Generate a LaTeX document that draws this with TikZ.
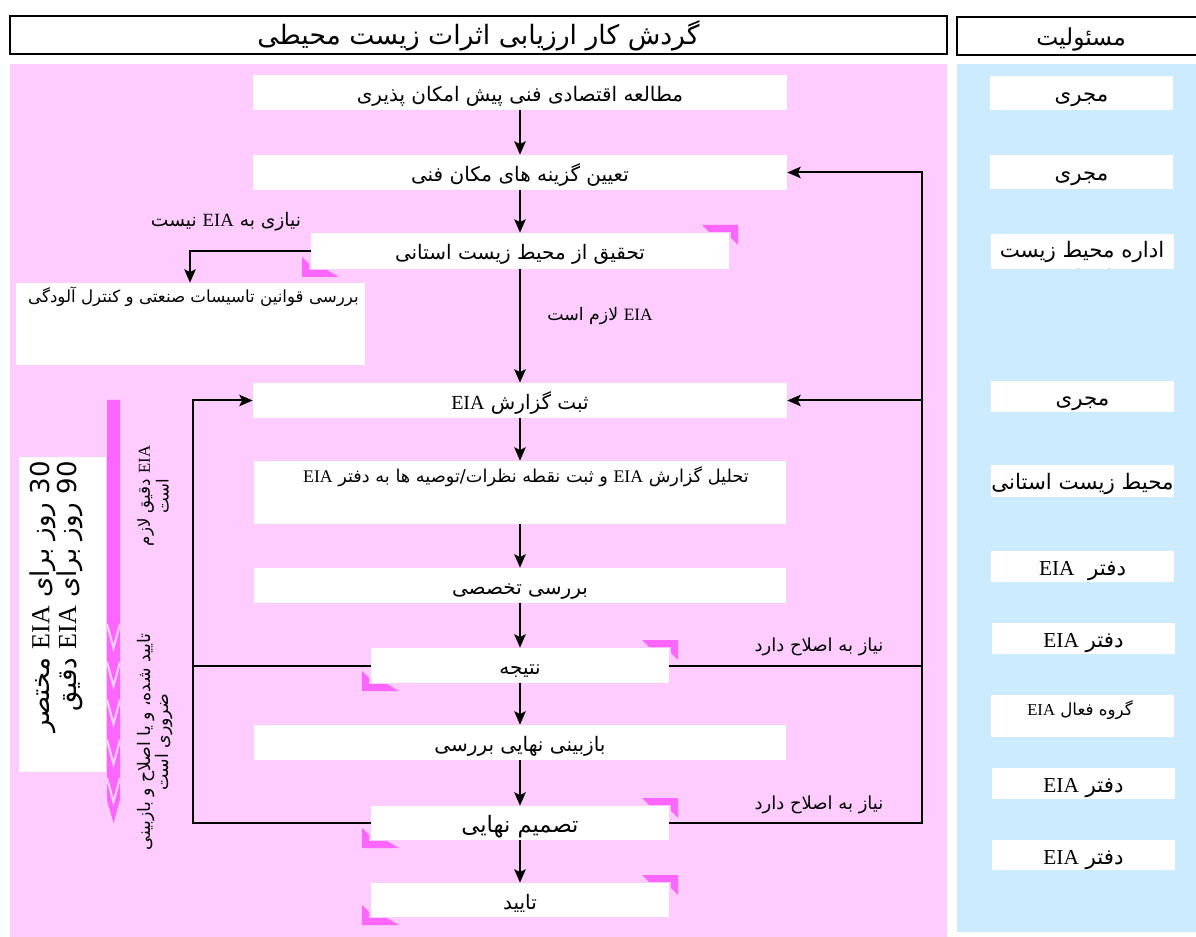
\documentclass[tikz,border=0pt]{standalone}
\usepackage{fontspec}
\setmainfont{Liberation Serif}
\newfontfamily\fa[Script=Arabic]{DejaVu Sans}
\TeXXeTstate=1
\usetikzlibrary{arrows.meta}

\definecolor{lanepink}{HTML}{FFCCFF}
\definecolor{laneblue}{HTML}{CCEBFF}
\definecolor{accent}{HTML}{FF66FF}

% right-to-left Persian run, and the Latin acronym inside it
\newcommand{\rtl}[1]{{\fa\beginR #1\endR}}
\newcommand{\eia}{\beginL{\rmfamily EIA}\endL}

% white box spanning (x1,y1)-(x2,y2) in pixel units
\newcommand{\flowbox}[7][]{%
  \node[stepbox,#1,minimum width={(#5-#3)*0.75pt},minimum height={(#6-#4)*0.75pt}]
    (#2) at ({(#3+#5)/2},{(#4+#6)/2}) {#7};}

% magenta corner brackets: top right and bottom left of box (x1,y1)-(x2,y2)
\newcommand{\brackets}[4]{%
  \fill[accent] (#3-27,#2-8) -- (#3+9,#2-8) -- (#3+9,#2+12) -- (#3+2,#2+5)
     -- (#3+2,#2-1) -- (#3-20,#2-1) -- cycle;
  \fill[accent] (#1-9,#4-12) -- (#1-9,#4+8) -- (#1+28,#4+8) -- (#1+16,#4+1)
     -- (#1-2,#4+1) -- (#1-2,#4-5) -- cycle;}

\tikzset{
  stepbox/.style={fill=white,inner sep=0pt,text=black,text height=14.5pt,text depth=1pt,
    font={\fontsize{15}{18}\selectfont}},
  headbox/.style={draw=black,line width=1.7pt,text height=16pt,font={\fontsize{20}{24}\selectfont}},
  rolebox/.style={font={\fontsize{16}{19}\selectfont}},
  note/.style={inner sep=0pt,font={\fontsize{13.5}{16}\selectfont}},
  flow/.style={line width=1.5pt,-{Stealth[length=10pt,width=8.5pt,inset=2pt]}},
  link/.style={line width=1.5pt},
}

\begin{document}
\begin{tikzpicture}[x=0.75pt,y=-0.75pt]
\useasboundingbox (0,0) rectangle (1196,937);
\fill[white] (0,0) rectangle (1196,937);

% swimlanes
\fill[lanepink] (10,64) rectangle (947,937);
\fill[laneblue] (957,64) rectangle (1196,932);

% headers
\flowbox[headbox]{title}{10}{16}{947}{54}{\rtl{گردش کار ارزیابی اثرات زیست محیطی}}
\flowbox[headbox,font={\fontsize{17.5}{21}\selectfont}]{resp}{957}{17}{1205}{55}{\rtl{مسئولیت}}

% corner brackets behind the decision boxes
\brackets{311}{233}{729}{269}
\brackets{371}{648}{669}{683}
\brackets{371}{806}{669}{840}
\brackets{371}{883}{669}{917}

% timeline arrow with chevrons
\fill[accent] (107,400) -- (120,400) -- (120,800) -- (113.5,823) -- (107,800) -- cycle;
\foreach \yy in {624,662,700,740,778}
  \draw[lanepink,line width=1.6pt] (107,\yy) -- (113.5,\yy+24) -- (120,\yy);

% durations
\flowbox{durbox}{19}{457}{106}{772}{}
\node[rotate=90,anchor=east,align=right,inner sep=0pt,font={\fontsize{19.5}{20}\selectfont}]
  (durtext) at (56,461) {\rtl{\beginL 30\endL{} روز برای \eia{} مختصر}\\\rtl{\beginL 90\endL{} روز برای \eia{} دقیق}};

% side notes along the loop
\node[note,rotate=90,align=center,font={\fontsize{12.5}{14}\selectfont}] (vnote1) at (153,496)
  {\rtl{\eia{} دقیق لازم}\\\rtl{است}};
\node[note,rotate=90,align=center,font={\fontsize{13}{14}\selectfont}] (vnote2) at (155,742)
  {\rtl{تایید شده، و یا اصلاح و بازبینی}\\\rtl{ضروری است}};

% main flow
\flowbox{b1}{253}{75}{787}{110}{\rtl{مطالعه اقتصادی فنی پیش امکان پذیری}}
\flowbox{b2}{253}{155}{787}{190}{\rtl{تعیین گزینه های مکان فنی}}
\flowbox{b3}{311}{233}{729}{269}{\rtl{تحقیق از محیط زیست استانی}}
\flowbox{lb}{16}{283}{365}{365}{}
\node[note,anchor=north east,font={\fontsize{12.5}{15}\selectfont}] (lbtext) at (359,287)
  {\rtl{بررسی قوانین تاسیسات صنعتی و کنترل آلودگی}};
\flowbox{b4}{253}{383}{787}{418}{\rtl{ثبت گزارش \eia}}
\flowbox{b5}{254}{461}{786}{524}{}
\node[note,anchor=north,font={\fontsize{13.3}{16}\selectfont}] (b5text) at (526,466)
  {\rtl{تحلیل گزارش \eia{} و ثبت نقطه نظرات/توصیه ها به دفتر \eia}};
\flowbox{b6}{254}{568}{786}{603}{\rtl{بررسی تخصصی}}
\flowbox{b7}{371}{648}{669}{683}{\rtl{نتیجه}}
\flowbox{b8}{254}{725}{786}{760}{\rtl{بازبینی نهایی بررسی}}
\flowbox[font={\fontsize{17}{20}\selectfont}]{b9}{371}{806}{669}{840}{\rtl{تصمیم نهایی}}
\flowbox{b10}{371}{883}{669}{917}{\rtl{تایید}}

% responsibilities
\flowbox[rolebox]{r1}{990}{76}{1173}{110}{\rtl{مجری}}
\flowbox[rolebox]{r2}{990}{155}{1173}{189}{\rtl{مجری}}
\flowbox[rolebox]{r3}{991}{234}{1174}{269}{}
\begin{scope}
  \clip (991,234) rectangle (1174,269);
  \node[note,anchor=north,align=center,font={\fontsize{16}{21}\selectfont}] (r3text) at (1082,241)
    {\rtl{اداره محیط زیست}\\\rtl{استانی}};
\end{scope}
\flowbox[rolebox]{r4}{991}{381}{1174}{412}{\rtl{مجری}}
\flowbox[rolebox]{r5}{991}{465}{1174}{497}{\rtl{محیط زیست استانی}}
\flowbox[rolebox]{r6}{991}{551}{1174}{582}{\rtl{دفتر \ \eia}}
\flowbox[rolebox]{r7}{992}{623}{1175}{654}{\rtl{دفتر \eia}}
\flowbox[rolebox]{r8}{991}{695}{1174}{737}{}
\node[note,anchor=north,font={\fontsize{12.5}{15}\selectfont}] (r8text) at (1080,700)
  {\rtl{گروه فعال \eia}};
\flowbox[rolebox]{r9}{992}{768}{1175}{799}{\rtl{دفتر \eia}}
\flowbox[rolebox]{r10}{992}{840}{1175}{870}{\rtl{دفتر \eia}}

% connectors down the main column
\draw[flow] (b1) -- (b2);
\draw[flow] (b2) -- (b3);
\draw[flow] (b3) -- (b4);
\draw[flow] (b4) -- (b5);
\draw[flow] (b5) -- (b6);
\draw[flow] (b6) -- (b7);
\draw[flow] (b7) -- (b8);
\draw[flow] (b8) -- (b9);
\draw[flow] (b9) -- (b10);

% branch to the left box
\coordinate (dropx) at (190,0);
\draw[flow] (b3.west) -| (dropx |- lb.north);

% loops back for revision
\coordinate (lx) at (193,0);
\coordinate (rx) at (922,0);
\draw[link] (b7.west) -- (lx |- b7.west);
\draw[flow] (b9.west) -| (lx |- b4.west) -- (b4.west);
\draw[link] (b7.east) -- (rx |- b7.east);
\draw[flow] (b9.east) -| (rx |- b2.east) -- (b2.east);
\draw[flow] (rx |- b4.east) -- (b4.east);

% connector labels
\node[note,font={\fontsize{14}{16}\selectfont}] (nneed) at (226,222) {\rtl{نیازی به \eia{} نیست}};
\node[note,font={\fontsize{13}{16}\selectfont}] (need) at (600,316) {\rtl{\eia{} لازم است}};
\node[note] (fix1) at (819,647) {\rtl{نیاز به اصلاح دارد}};
\node[note] (fix2) at (819,805) {\rtl{نیاز به اصلاح دارد}};
\end{tikzpicture}
\end{document}
